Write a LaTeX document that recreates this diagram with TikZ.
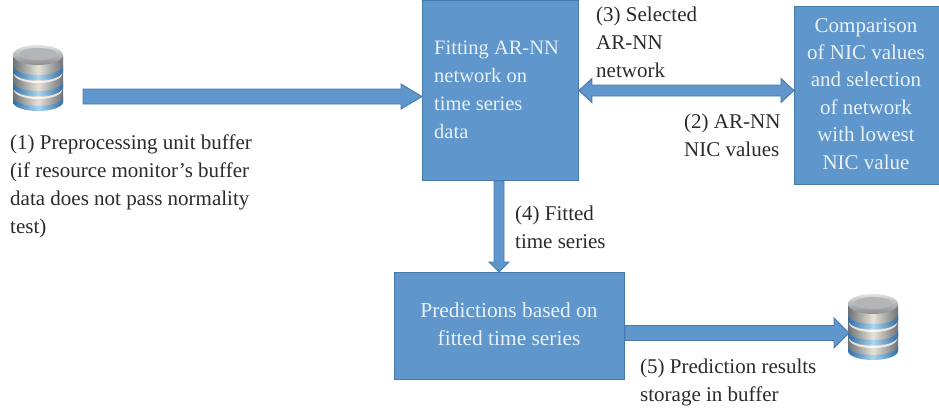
\documentclass[tikz,border=0pt]{standalone}
\usepackage{fontspec}
\setmainfont{Liberation Serif}
\usetikzlibrary{calc}
\definecolor{boxblue}{HTML}{5F96CB}
\definecolor{boxedge}{HTML}{467AAC}
\definecolor{txt}{HTML}{2B2B2B}
\definecolor{boxtxt}{HTML}{EAF1F8}
\tikzset{
  x=1pt,y=-1pt,
  bluebox/.style={draw=boxedge,fill=boxblue,line width=0.9pt,inner sep=0pt,anchor=north west},
  boxlabel/.style={inner sep=0pt,text=boxtxt},
  lab/.style={anchor=north west,inner sep=0pt,text=txt,font=\fontsize{21}{28}\selectfont,align=left},
  arrowbody/.style={draw=boxedge,fill=boxblue,line width=0.9pt,line join=miter},
}
\newcommand{\harrow}[5]{\draw[arrowbody] let \p1=(#1),\p2=(#2) in
  (\x1,\y1-#3pt) -- (\x2-#4pt,\y1-#3pt) -- (\x2-#4pt,\y1-#5pt) -- (\x2,\y1) -- (\x2-#4pt,\y1+#5pt) -- (\x2-#4pt,\y1+#3pt) -- (\x1,\y1+#3pt) -- cycle;}
\newcommand{\darrow}[5]{\draw[arrowbody] let \p1=(#1),\p2=(#2) in
  (\x1+#4pt,\y1-#3pt) -- (\x2-#4pt,\y1-#3pt) -- (\x2-#4pt,\y1-#5pt) -- (\x2,\y1) -- (\x2-#4pt,\y1+#5pt) -- (\x2-#4pt,\y1+#3pt) -- (\x1+#4pt,\y1+#3pt) -- (\x1+#4pt,\y1+#5pt) -- (\x1,\y1) -- (\x1+#4pt,\y1-#5pt) -- cycle;}
\newcommand{\varrow}[5]{\draw[arrowbody] let \p1=(#1),\p2=(#2) in
  (\x1-#3pt,\y1) -- (\x1-#3pt,\y2+#4pt) -- (\x1-#5pt,\y2+#4pt) -- (\x1,\y2) -- (\x1+#5pt,\y2+#4pt) -- (\x1+#3pt,\y2+#4pt) -- (\x1+#3pt,\y1) -- cycle;}
\definecolor{metalA}{HTML}{6E7276}
\definecolor{metalB}{HTML}{E6E3DA}
\definecolor{ringA}{HTML}{2F6FA8}
\definecolor{ringB}{HTML}{A9D6EE}
\definecolor{capA}{HTML}{E2E2E2}
\definecolor{capB}{HTML}{8A8C8E}
\definecolor{capC}{HTML}{B4B5B6}
\tikzset{
  metal/.style={left color=metalA,right color=metalA,middle color=metalB},
  bluering/.style={left color=ringA,right color=ringA,middle color=ringB},
  pics/dbicon/.style={code={
    \path[metal] (-25,-23) -- (-25,23) arc[start angle=180,end angle=0,x radius=25,y radius=9] -- (25,-23) -- cycle;
    \foreach \yy in {-9,7,22}{
      \path[fill=white,opacity=.75] (-24,\yy+3) arc[start angle=180,end angle=0,x radius=24,y radius=9] -- (24,\yy+5) arc[start angle=0,end angle=180,x radius=24,y radius=9] -- cycle;
      \path[bluering] (-25,\yy-3) arc[start angle=180,end angle=0,x radius=25,y radius=9] -- (25,\yy+2) arc[start angle=0,end angle=180,x radius=25,y radius=9] -- cycle;
    }
    \path[top color=capA,bottom color=capB] (0,-23) ellipse[x radius=25,y radius=10];
    \path[fill=capC] (0,-24) ellipse[x radius=19,y radius=6];
  }},
}
\begin{document}
\begin{tikzpicture}
\useasboundingbox (0,0) rectangle (939,413);
\node[bluebox,minimum width=156pt,minimum height=180pt] (fit) at (422,0) {};
\node[boxlabel,anchor=north west,font=\fontsize{20.5}{28}\selectfont,align=left] (fittext) at (434,41) {Fitting AR-NN\\network on\\time series\\data};
\node[bluebox,minimum width=145pt,minimum height=178pt] (cmp) at (794,6) {};
\node[boxlabel,anchor=north,font=\fontsize{21}{27.4}\selectfont,align=center] (cmptext) at (866,18) {Comparison\\of NIC values\\and selection\\of network\\with lowest\\NIC value};
\node[bluebox,minimum width=230pt,minimum height=107pt] (pred) at (394,272) {};
\node[boxlabel,anchor=north,font=\fontsize{21.4}{28.5}\selectfont,align=center] (predtext) at (509,302) {Predictions based on\\fitted time series};
\coordinate (src) at (83,96.5);
\coordinate (fitw) at (fit.west |- src);
\coordinate (fitdbl) at (fit.east |- 0,90.5);
\coordinate (cmpdbl) at (cmp.west |- 0,90.5);
\coordinate (fits) at (fit.south -| 499,0);
\coordinate (predn) at (pred.north -| 499,0);
\coordinate (prede) at (pred.east |- 0,333);
\coordinate (dbin) at (849,333);
\pic (dbA) at (38,78) {dbicon};
\pic (dbB) at (873,327) {dbicon};
\harrow{src}{fitw}{7.5}{21}{12.5}
\darrow{fitdbl}{cmpdbl}{5.5}{13}{12}
\varrow{fits}{predn}{5}{10}{10}
\harrow{prede}{dbin}{7.5}{15}{15}
\node[lab] (l1) at (10,135) {(1) Preprocessing unit buffer\\(if resource monitor’s buffer\\data does not pass normality\\test)};
\node[lab] (l3) at (596,7) {(3) Selected\\AR-NN\\network};
\node[lab] (l2) at (684,114) {(2) AR-NN\\NIC values};
\node[lab] (l4) at (515,206) {(4) Fitted\\time series};
\node[lab] (l5) at (640,359) {(5) Prediction results\\storage in buffer};
\end{tikzpicture}
\end{document}
